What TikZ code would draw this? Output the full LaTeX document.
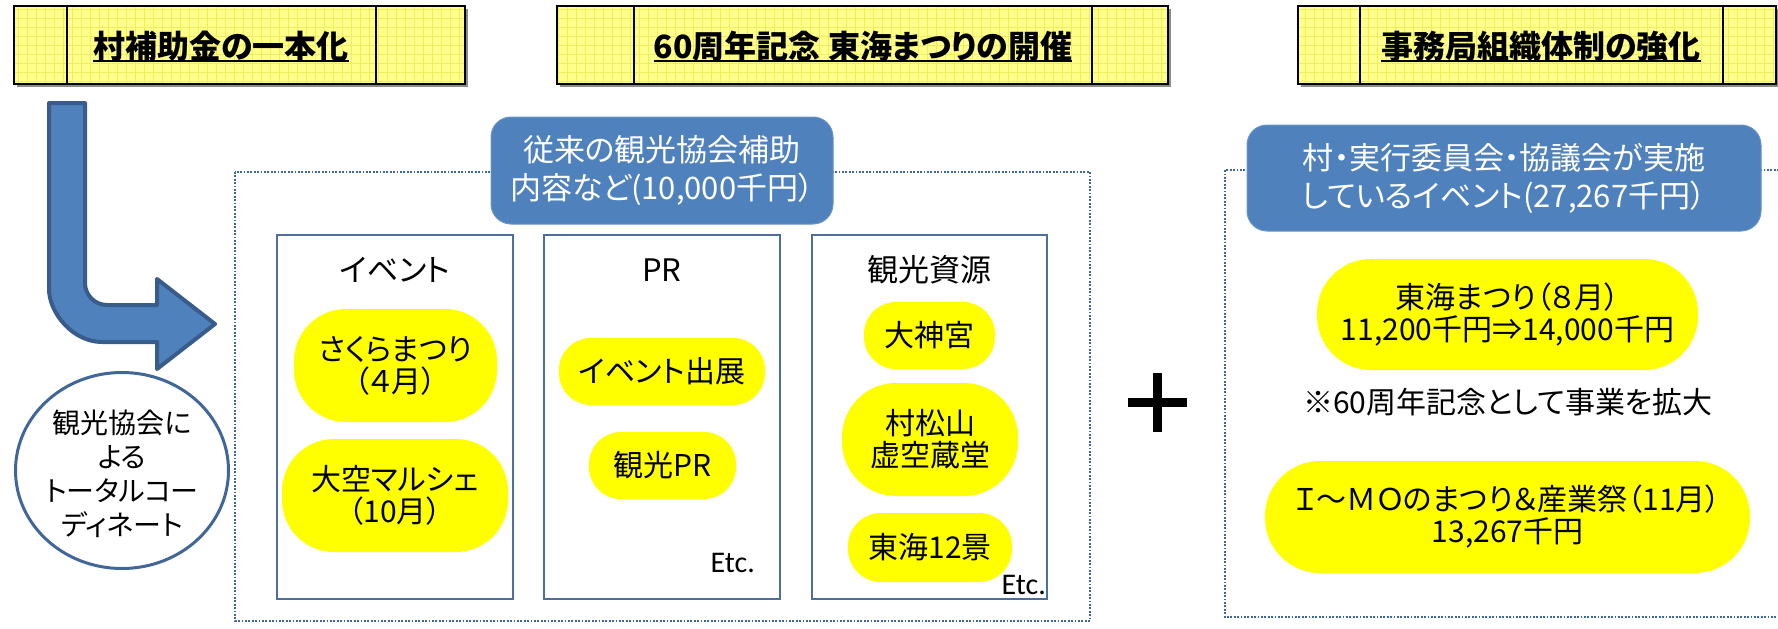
\documentclass[tikz,border=0pt]{standalone}
\usepackage{fontspec}
\setmainfont{Noto Sans CJK JP}[RawFeature=+palt]
\newfontfamily\etcfont{Carlito}
\usetikzlibrary{shapes.geometric}
\definecolor{hdrfill}{RGB}{255,255,140}
\definecolor{hdrgrid}{RGB}{238,238,95}
\definecolor{arrowfill}{RGB}{79,129,189}
\definecolor{arrowline}{RGB}{56,93,138}
\definecolor{dotblue}{RGB}{65,103,154}
\definecolor{boxline}{RGB}{79,110,160}
\definecolor{pillyellow}{RGB}{255,255,0}
\begin{document}
\begin{tikzpicture}[x=1pt,y=-1pt,
  hdrtext/.style={font=\fontsize{32}{34}\selectfont\bfseries, inner sep=0pt},
  bluebox/.style={fill=arrowfill, draw=arrowfill!85!white, line width=1pt, rounded corners=20pt, text=white, align=center, font=\fontsize{31}{38}\selectfont},
  dotbox/.style={draw=dotblue, line width=1.8pt, dash pattern=on 1.8pt off 1.6pt},
  innerbox/.style={draw=boxline, line width=1.8pt, fill=white},
  pillbox/.style={fill=pillyellow, draw=none, align=center, font=\fontsize{30}{32}\selectfont},
  titletext/.style={font=\fontsize{31}{33}\selectfont, inner sep=0pt},
  plaintext/.style={font=\fontsize{30}{32}\selectfont, inner sep=0pt, align=center},
  etctext/.style={font=\etcfont\fontsize{30}{32}\selectfont, inner sep=0pt},
  bigarrow/.style={fill=arrowfill, draw=arrowline, line width=4pt, line join=round}
]
\useasboundingbox (0,0) rectangle (1778,629);
\fill[white] (0,0) rectangle (1778,629);
\coordinate (ulh) at (0,61);

% header banners
\foreach \l/\da/\db/\r/\c/\t/\n in {14/67/376/465/221/村補助金の一本化/h1, 557/634/1092/1168/863/60周年記念 東海まつりの開催/h2, 1298/1360/1723/1776/1541/事務局組織体制の強化/h3}{
  \fill[black!45] (\l+3,9) rectangle (\r+3,87);
  \fill[hdrfill] (\l,6) rectangle (\r,84);
  \begin{scope}
    \clip (\l,6) rectangle (\r,84);
    \draw[hdrgrid, line width=0.7pt, step=9pt] (\l,6) grid (\r,84);
  \end{scope}
  \draw[line width=2.5pt] (\l,6) rectangle (\r,84) (\da,6) -- (\da,84) (\db,6) -- (\db,84);
  \node[hdrtext] (\n) at (\c,46) {\t};
  \draw[line width=2.2pt] (\n.west |- ulh) -- (\n.east |- ulh);
}

% bent arrow
\draw[bigarrow] (49,103) -- (85,103) -- (85,283) .. controls (85,295.1) and (94.9,305) .. (107,305)
  -- (157,305) -- (157,279) -- (215,324) -- (157,369) -- (157,342) -- (102,342)
  .. controls (72.7,342) and (49,312.7) .. (49,289) -- cycle;

% circle
\node[ellipse, draw=dotblue, line width=3pt, fill=white, minimum width=213pt, minimum height=196pt] (coord) at (122,470.5) {};
\node[plaintext, font=\fontsize{28}{34}\selectfont] (coordtext) at (122,474) {観光協会に\\よる\\トータルコー\\ディネート};

% left dotted frame
\draw[dotbox] (235,172) rectangle (1090,621);
\node[bluebox, minimum width=342pt, minimum height=107pt] (b1) at (662,170.5) {従来の観光協会補助\\内容など(10,000千円）};

% inner boxes
\node[innerbox, minimum width=236pt, minimum height=364pt] (ib1) at (395,417) {};
\node[innerbox, minimum width=236pt, minimum height=364pt] (ib2) at (662,417) {};
\node[innerbox, minimum width=235pt, minimum height=364pt] (ib3) at (929.5,417) {};

\node[titletext] (t1) at (395,270) {イベント};
\node[titletext] (t2) at (662,270) {PR};
\node[titletext] (t3) at (929.5,270) {観光資源};

\node[pillbox, minimum width=203pt, minimum height=113pt, rounded corners=52pt] (p1) at (395.5,365.5) {さくらまつり\\（４月）};
\node[pillbox, minimum width=226pt, minimum height=113pt, rounded corners=52pt] (p2) at (395,495.5) {大空マルシェ\\（10月）};
\node[pillbox, minimum width=206pt, minimum height=67pt, rounded corners=32pt] (p3) at (662,371.5) {イベント出展};
\node[pillbox, minimum width=147pt, minimum height=67pt, rounded corners=32pt] (p4) at (662.5,465.5) {観光PR};
\node[etctext, anchor=east] (etc2) at (755,563) {Etc.};

\node[pillbox, minimum width=131pt, minimum height=67pt, rounded corners=32pt] (p5) at (929.5,335.5) {大神宮};
\node[pillbox, minimum width=176pt, minimum height=113pt, rounded corners=54pt] (p6) at (930,439.5) {村松山\\虚空蔵堂};
\node[pillbox, minimum width=164pt, minimum height=69pt, rounded corners=33pt] (p7) at (930,547.5) {東海12景};
\node[etctext, anchor=east] (etc3) at (1046,585) {Etc.};

% plus sign
\coordinate (plus) at (1157,402);
\draw[line width=9pt] ([xshift=-29.5pt]plus) -- ([xshift=29.5pt]plus);
\draw[line width=9pt] ([yshift=-29.5pt]plus) -- ([yshift=29.5pt]plus);

% right dotted frame
\draw[dotbox] (1779,170) -- (1225,170) -- (1225,617) -- (1779,617);
\node[bluebox, minimum width=514pt, minimum height=106pt] (b2) at (1504,178) {村・実行委員会・協議会が実施\\しているイベント(27,267千円）};

\node[pillbox, minimum width=381pt, minimum height=111pt, rounded corners=54pt] (p8) at (1507.5,314.5) {東海まつり（８月）\\11,200千円⇒14,000千円};
\node[plaintext] (note) at (1508,402) {※60周年記念として事業を拡大};
\node[pillbox, minimum width=485pt, minimum height=112pt, rounded corners=55pt] (p9) at (1507.5,517) {Ｉ〜ＭＯのまつり＆産業祭（11月）\\13,267千円};
\end{tikzpicture}
\end{document}
